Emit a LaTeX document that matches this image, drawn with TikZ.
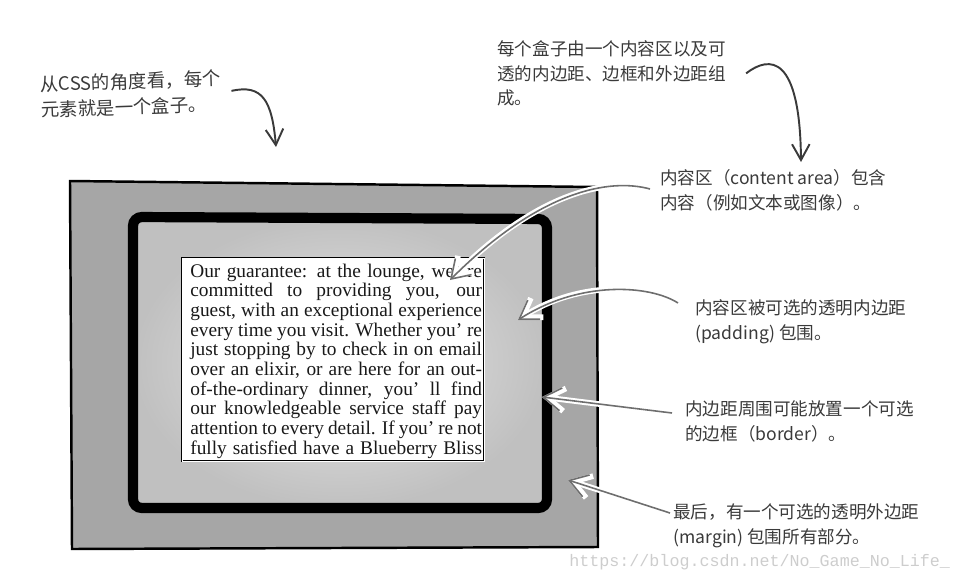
\documentclass[tikz,border=0pt]{standalone}
\usepackage{fontspec}
\setmainfont{Liberation Serif}
\newfontfamily\cjk{Noto Sans CJK SC}
\newfontfamily\wmfont{Liberation Mono}
\usetikzlibrary{arrows.meta}
\definecolor{colMargin}{HTML}{A6A6A6}
\definecolor{colPadInner}{HTML}{E8E8E8}
\definecolor{colPadOuter}{HTML}{C0C0C0}
\definecolor{colCallout}{HTML}{6E6E6E}
\definecolor{colHand}{HTML}{3A3A3A}
\definecolor{colMark}{HTML}{CDCDCD}

\newcommand{\jline}[1]{\hbox to 166pt{#1}}

\begin{document}
\begin{tikzpicture}[x=0.02cm, y=-0.02cm,
  note/.style={font=\cjk\fontsize{10}{14.2}\selectfont, text=colHand, align=left, inner sep=0pt, anchor=base west},
  callout/.style={draw=colCallout, line width=0.9pt, -{Straight Barb[length=10pt,width=13pt]}, preaction={draw=white, line width=3.2pt}},
  handarrow/.style={draw=colHand, line width=1.1pt, -{Straight Barb[length=9pt,width=10pt]}}]

  \useasboundingbox (0,0) rectangle (960,581);

  % Margin
  \fill[colMargin] (70,181) -- (597,187) -- (598,547) -- (72,549) -- cycle;
  \draw[line width=1.4pt] (70,181) -- (597,187) -- (598,547) -- (72,549) -- cycle;

  % Padding and border
  \shade[inner color=colPadInner, outer color=colPadOuter] (133,217) rectangle (547,508);
  \draw[line width=5.8pt, rounded corners=5pt] (133,217) -- (547,219) -- (547,508) -- (133,508) -- cycle;

  % Content area
  \draw[fill=white, line width=0.6pt, double=white, double distance=0.5pt] (182,258) rectangle (484,461);
  \node[anchor=base west, inner sep=0pt, text=black!90, font=\fontsize{11}{11.2}\selectfont] (copyText) at (190,277) {\vtop{%
    \jline{Our guarantee: at the lounge, we’ re}
    \jline{committed to providing you, our}
    \jline{guest, with an exceptional experience}
    \jline{every time you visit. Whether you’ re}
    \jline{just stopping by to check in on email}
    \jline{over an elixir, or are here for an out-}
    \jline{of-the-ordinary dinner, you’ ll find}
    \jline{our knowledgeable service staff pay}
    \jline{attention to every detail. If you’ re not}
    \jline{fully satisfied have a Blueberry Bliss}}};

  % Notes (base = last line)
  \node[note, rotate=2, font=\cjk\fontsize{10.5}{14.5}\selectfont] (lblBox) at (41,117) {从CSS的角度看，每个\\元素就是一个盒子。};
  \node[note] (lblParts) at (497,105) {每个盒子由一个内容区以及可\\透的内边距、边框和外边距组\\成。};
  \node[note] (lblContent) at (660,209) {内容区（content area）包含\\内容（例如文本或图像）。};
  \node[note] (lblPadding) at (695,339) {内容区被可选的透明内边距\\(padding) 包围。};
  \node[note] (lblBorder) at (685,440) {内边距周围可能放置一个可选\\的边框（border）。};
  \node[note] (lblMargin) at (673,543) {最后，有一个可选的透明外边距\\(margin) 包围所有部分。};

  \node[anchor=base west, inner sep=0pt, font=\wmfont\fontsize{9.5}{11}\selectfont, text=colMark] (markUrl) at (569,566) {https://blog.csdn.net/No\_Game\_No\_Life\_};

  % Arrow tips
  \coordinate (tipBox) at (276,147);
  \coordinate (tipParts) at (801,162);
  \coordinate (tipContent) at (450,280);
  \coordinate (tipPadding) at (518,320);
  \coordinate (tipBorder) at (542,397);
  \coordinate (tipMargin) at (568,480);

  \draw[handarrow] ([shift={(10,0)}]lblBox.east) .. controls (262,84) and (272,100) .. (tipBox);
  \draw[handarrow] ([shift={(20,0)}]lblParts.east) .. controls (770,55) and (800,55) .. (tipParts);
  \draw[callout] ([shift={(-10,-20)}]lblContent.base west) .. controls (610,178) and (540,190) .. (tipContent);
  \draw[callout] ([shift={(-17,-36)}]lblPadding.base west) .. controls (650,285) and (580,280) .. (tipPadding);
  \draw[callout] ([shift={(-13,-27)}]lblBorder.base west) -- (tipBorder);
  \draw[callout] ([shift={(-3,-30)}]lblMargin.base west) -- (tipMargin);
\end{tikzpicture}
\end{document}
